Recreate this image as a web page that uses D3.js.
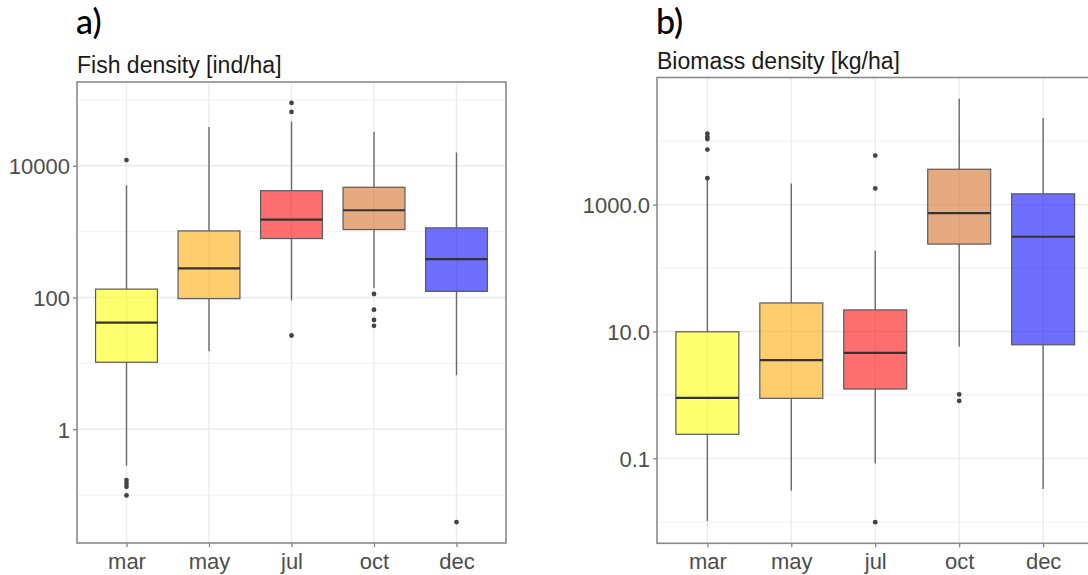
<!DOCTYPE html>
<html>
<head>
<meta charset="utf-8">
<script src="https://cdn.jsdelivr.net/npm/d3@7"></script>
<style>
  html, body { margin: 0; padding: 0; background: #fff; }
  svg { display: block; }
</style>
</head>
<body>
<svg id="chart" width="1088" height="575"></svg>
<script>
// Sampling months (x categories, shared by both panels)
const months = ["mar", "may", "jul", "oct", "dec"];
const fillColors = ["#ffff00", "#ffa500", "#ff0000", "#d2691e", "#0000ff"];

// Panel a: fish density [ind/ha] — box-plot statistics per month
const fishLow  = [0.28, 15.3, 90, 139, 6.6];
const fishQ1   = [10.4, 96, 785, 1075, 124];
const fishMed  = [41.6, 276, 1520, 2110, 383];
const fishQ3   = [134, 1026, 4180, 4710, 1140];
const fishHigh = [5050, 38900, 47000, 32700, 15950];
const fishOut  = [[12200, 0.169, 0.15, 0.134, 0.099], [], [89800, 65600, 26.5], [113, 65.4, 45.5, 37.2], [0.039]];
const fishTicks = [1, 100, 10000];
const fishTickLabels = ["1", "100", "10000"];
const fishMinor = [0.1, 10, 1000, 100000];

// Panel b: biomass density [kg/ha]
const bioLow  = [0.0103, 0.031, 0.083, 5.8, 0.033];
const bioQ1   = [0.24, 0.885, 1.24, 239, 6.18];
const bioMed  = [0.9, 3.55, 4.62, 735, 312];
const bioQ3   = [9.9, 28.2, 21.9, 3610, 1480];
const bioHigh = [2450, 2150, 188, 46800, 23200];
const bioOut  = [[13200, 11700, 10800, 7380, 2610], [], [5940, 1800, 0.0099], [1.02, 0.806], []];
const bioTicks = [0.1, 10, 1000];
const bioTickLabels = ["0.1", "10.0", "1000.0"];
const bioMinor = [0.01, 1, 100, 10000];

const svg = d3.select("#chart");

function drawPanel(cfg) {
  const { left, right, top, bottom, tag, title, low, q1, med, q3, high, out,
          ticks, tickLabels, minor } = cfg;

  // log scale with ggplot-style 5% expansion of the data range
  const all = [].concat(low, high, ...out);
  const lo = Math.log10(d3.min(all)), hi = Math.log10(d3.max(all));
  const pad = (hi - lo) * 0.05;
  const y = d3.scaleLog().domain([10 ** (lo - pad), 10 ** (hi + pad)]).range([bottom, top]);
  const x = d3.scalePoint().domain(months).range([left, right]).padding(0.6);
  const bw = x.step() * 0.75;

  const g = svg.append("g");

  // panel titles
  g.append("text").attr("x", left - 1).attr("y", 34)
    .attr("font-family", "Lato, 'Open Sans', sans-serif").attr("font-size", 34)
    .attr("font-weight", 500).attr("fill", "#000").text(tag);
  g.append("text").attr("x", left).attr("y", top - 9)
    .attr("font-family", "'Liberation Sans', Arial, sans-serif").attr("font-size", 23)
    .attr("fill", "#1a1a1a").text(title);

  // grid
  const grid = g.append("g");
  grid.selectAll(".minor").data(minor).join("line")
    .attr("x1", left).attr("x2", right).attr("y1", d => y(d)).attr("y2", d => y(d))
    .attr("stroke", "#f3f3f3").attr("stroke-width", 1.2);
  grid.selectAll(".major").data(ticks).join("line")
    .attr("x1", left).attr("x2", right).attr("y1", d => y(d)).attr("y2", d => y(d))
    .attr("stroke", "#ebebeb").attr("stroke-width", 1.4);
  grid.selectAll(".vmajor").data(months).join("line")
    .attr("x1", d => x(d)).attr("x2", d => x(d)).attr("y1", top).attr("y2", bottom)
    .attr("stroke", "#ebebeb").attr("stroke-width", 1.4);

  // boxes
  const boxes = g.selectAll(".box").data(months).join("g");
  boxes.append("line")
    .attr("x1", d => x(d)).attr("x2", d => x(d))
    .attr("y1", (d, i) => y(q3[i])).attr("y2", (d, i) => y(high[i]))
    .attr("stroke", "#6a6a6a").attr("stroke-width", 1.4);
  boxes.append("line")
    .attr("x1", d => x(d)).attr("x2", d => x(d))
    .attr("y1", (d, i) => y(q1[i])).attr("y2", (d, i) => y(low[i]))
    .attr("stroke", "#6a6a6a").attr("stroke-width", 1.4);
  boxes.append("rect")
    .attr("x", d => x(d) - bw / 2).attr("width", bw)
    .attr("y", (d, i) => y(q3[i])).attr("height", (d, i) => y(q1[i]) - y(q3[i]))
    .attr("fill", (d, i) => fillColors[i]).attr("fill-opacity", 0.57)
    .attr("stroke", "#5a5a5a").attr("stroke-width", 1.2);
  boxes.append("line")
    .attr("x1", d => x(d) - bw / 2).attr("x2", d => x(d) + bw / 2)
    .attr("y1", (d, i) => y(med[i])).attr("y2", (d, i) => y(med[i]))
    .attr("stroke", "#333").attr("stroke-width", 2.2);
  boxes.each(function (d, i) {
    d3.select(this).selectAll("circle").data(out[i]).join("circle")
      .attr("cx", x(d)).attr("cy", v => y(v)).attr("r", 2.4)
      .attr("fill", "#444");
  });

  // axes
  const yAxis = d3.axisLeft(y).tickValues(ticks)
    .tickFormat((d, i) => tickLabels[i]).tickSize(4).tickPadding(3);
  const ya = g.append("g").attr("transform", `translate(${left},0)`).call(yAxis);
  const xAxis = d3.axisBottom(x).tickSize(4).tickPadding(4);
  const xa = g.append("g").attr("transform", `translate(0,${bottom})`).call(xAxis);
  [ya, xa].forEach(a => {
    a.select(".domain").remove();
    a.selectAll(".tick line").attr("stroke", "#7a7a7a").attr("stroke-width", 1.2);
    a.selectAll(".tick text").attr("font-family", "'Liberation Sans', Arial, sans-serif")
      .attr("font-size", 22).attr("fill", "#4d4d4d");
  });
  ya.selectAll(".tick text").attr("dy", "0.36em");
  xa.selectAll(".tick text").attr("dy", "0.8em");

  // panel border
  g.append("rect").attr("x", left).attr("y", top)
    .attr("width", right - left).attr("height", bottom - top)
    .attr("fill", "none").attr("stroke", "#8a8a8a").attr("stroke-width", 1.6);
}

drawPanel({
  left: 77, right: 506, top: 82, bottom: 543, tag: "a)", title: "Fish density [ind/ha]",
  low: fishLow, q1: fishQ1, med: fishMed, q3: fishQ3, high: fishHigh, out: fishOut,
  ticks: fishTicks, tickLabels: fishTickLabels, minor: fishMinor
});
drawPanel({
  left: 657, right: 1093.5, top: 77.5, bottom: 543.3, tag: "b)", title: "Biomass density [kg/ha]",
  low: bioLow, q1: bioQ1, med: bioMed, q3: bioQ3, high: bioHigh, out: bioOut,
  ticks: bioTicks, tickLabels: bioTickLabels, minor: bioMinor
});
</script>
</body>
</html>
